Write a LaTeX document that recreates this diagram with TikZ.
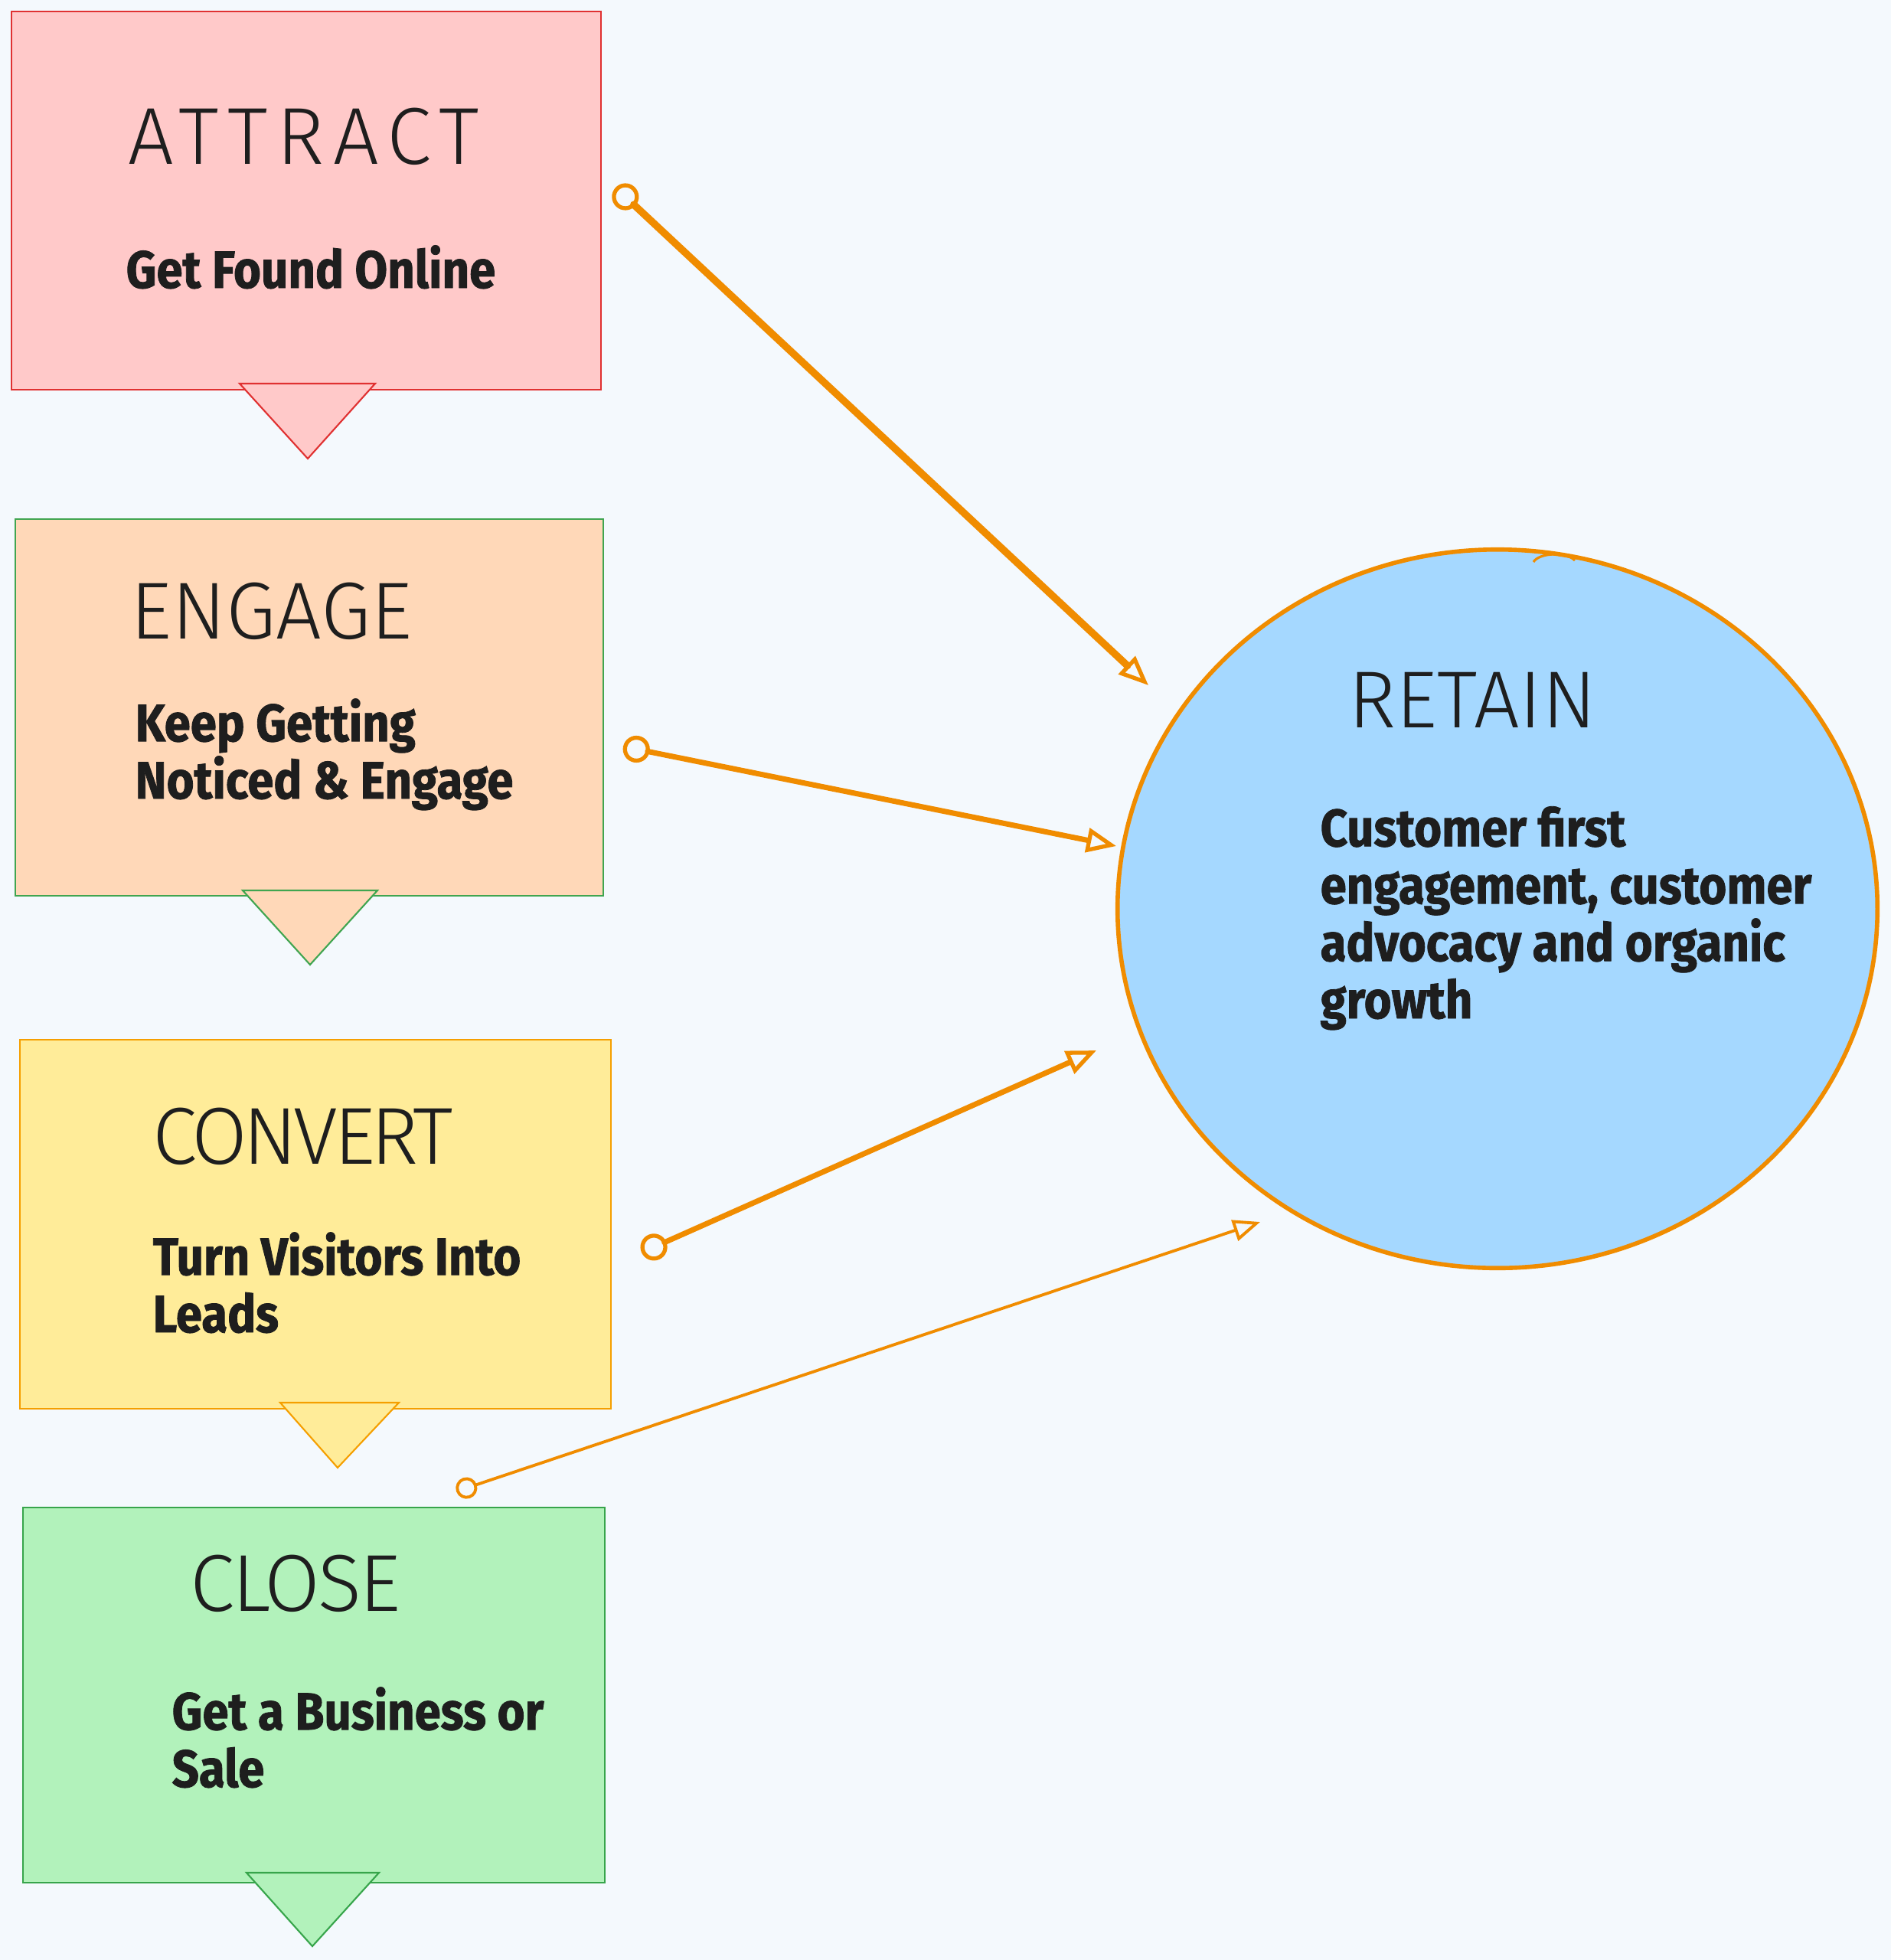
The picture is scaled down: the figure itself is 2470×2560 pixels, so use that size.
\documentclass[tikz,border=0pt]{standalone}
\usepackage{fontspec}
\usepackage{xcolor}
\usetikzlibrary{arrows.meta,shapes.geometric}
\newfontfamily\titlefont{Fira Sans Light}
\newfontfamily\heavyfont{Fira Sans}[FakeStretch=0.9, BoldFeatures={FakeBold=1.2}]
\definecolor{canvas}{RGB}{244,249,253}
\definecolor{ink}{RGB}{30,30,30}
\definecolor{attractfill}{RGB}{255,201,201}
\definecolor{attractline}{RGB}{224,49,49}
\definecolor{engagefill}{RGB}{255,216,184}
\definecolor{engageline}{RGB}{64,165,80}
\definecolor{convertfill}{RGB}{255,236,153}
\definecolor{convertline}{RGB}{245,159,0}
\definecolor{closefill}{RGB}{178,242,187}
\definecolor{closeline}{RGB}{55,165,75}
\definecolor{retainfill}{RGB}{165,216,255}
\definecolor{flowline}{RGB}{240,140,0}

\begin{document}
\begin{tikzpicture}[
    x=0.01cm, y=-0.01cm,
    stage/.style={rectangle, line width=0.6pt, inner sep=0pt},
    notch/.style={line width=0.6pt, line join=miter},
    title/.style={anchor=base west, inner sep=0pt, text=ink, font=\titlefont\fontsize{30}{36}\selectfont},
    blurb/.style={anchor=base west, inner sep=0pt, text=ink, align=left, font=\heavyfont\bfseries\fontsize{19.5}{21.3}\selectfont},
    flowarrow/.style={draw=flowline, line cap=round, {Circle[open, length=10pt, line width=1.5pt]}-{Triangle[open, length=11pt, width=9pt, line width=1.5pt]}}
]
    % Canvas
    \fill[canvas] (0,0) rectangle (2470,2560);
    \useasboundingbox (0,0) rectangle (2470,2560);

    % Stage boxes
    \node[stage, draw=attractline, fill=attractfill, minimum width=7.69cm, minimum height=4.93cm] (attract) at (400,262) {};
    \node[stage, draw=engageline, fill=engagefill, minimum width=7.68cm, minimum height=4.91cm] (engage) at (404,924) {};
    \node[stage, draw=convertline, fill=convertfill, minimum width=7.72cm, minimum height=4.82cm] (convert) at (412,1599) {};
    \node[stage, draw=closeline, fill=closefill, minimum width=7.59cm, minimum height=4.89cm] (close) at (410,2214) {};

    % Notches under the boxes
    \filldraw[notch, draw=attractline, fill=attractfill] (313,501) -- (490,501) -- (402,599) -- cycle;
    \filldraw[notch, draw=engageline, fill=engagefill] (317,1163) -- (493,1163) -- (405,1260) -- cycle;
    \filldraw[notch, draw=convertline, fill=convertfill] (366,1832) -- (521,1832) -- (441,1917) -- cycle;
    \filldraw[notch, draw=closeline, fill=closefill] (322,2446) -- (495,2446) -- (408,2542) -- cycle;

    % Retain circle
    \node[ellipse, draw=flowline, fill=retainfill, line width=1.6pt, minimum width=9.92cm, minimum height=9.38cm, inner sep=0pt] (retain) at (1956,1187) {};
    \draw[flowline, line width=0.9pt] (2003,734) .. controls (2010,722) and (2046,720) .. (2057,732);

    % Texts
    \node[title] (attractTitle) at (167,214) {\addfontfeature{LetterSpace=11}ATTRACT};
    \node[blurb] (attractText) at (164,376) {Get Found Online};
    \node[title] (engageTitle) at (170,834) {ENGAGE};
    \node[blurb] (engageText) at (176,1043) {Keep Getting\\Noticed \& Engage};
    \node[title] (convertTitle) at (199,1520) {\addfontfeature{LetterSpace=-5}CONVERT};
    \node[blurb] (convertText) at (199,1740) {Turn Visitors Into\\Leads};
    \node[title] (closeTitle) at (248,2104) {\addfontfeature{LetterSpace=-3}CLOSE};
    \node[blurb] (closeText) at (224,2334) {Get a Business or\\Sale};
    \node[title] (retainTitle) at (1761,950) {RETAIN};
    \node[blurb] (retainText) at (1724,1330) {Customer first\\engagement, customer\\advocacy and organic\\growth};

    % Connectors
    \coordinate (attractOut) at (804,245);
    \coordinate (engageOut) at (814,975);
    \coordinate (convertOut) at (838,1636);
    \coordinate (closeOut) at (596,1948);
    \coordinate (retainIn1) at (1500,895);
    \coordinate (retainIn2) at (1458,1105);
    \coordinate (retainIn3) at (1432,1372);
    \coordinate (retainIn4) at (1646,1596);
    \draw[flowarrow, line width=2.7pt] (attractOut) -- (retainIn1);
    \draw[flowarrow, line width=2pt] (engageOut) -- (retainIn2);
    \draw[flowarrow, line width=2pt] (convertOut) -- (retainIn3);
    \draw[flowarrow, line width=1.1pt, {Circle[open, length=8pt, line width=1.1pt]}-{Triangle[open, length=10pt, width=8pt, line width=1.1pt]}] (closeOut) -- (retainIn4);

\end{tikzpicture}
\end{document}
